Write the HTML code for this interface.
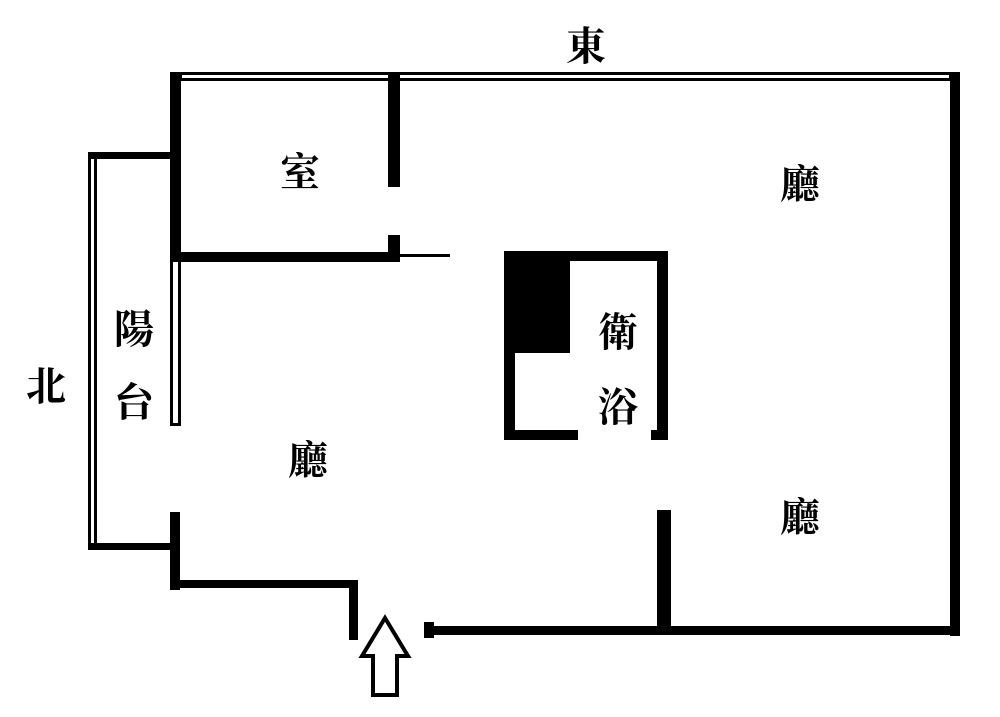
<!DOCTYPE html>
<html><head><meta charset="utf-8"><style>
html,body{margin:0;padding:0;background:#fff;}
svg{display:block;}
text{font-family:"Liberation Serif","Noto Serif CJK SC","Noto Sans CJK TC",serif;font-size:40px;font-weight:bold;fill:#000;text-anchor:middle;}
</style></head><body>
<svg width="1000" height="717" viewBox="0 0 1000 717" xmlns="http://www.w3.org/2000/svg">
<!-- top double wall -->
<rect x="170" y="72" width="790" height="9" fill="#000"/>
<rect x="182" y="75" width="206" height="3" fill="#fff"/>
<rect x="400" y="75" width="549" height="3" fill="#fff"/>
<!-- left wall upper -->
<rect x="170" y="72" width="11" height="190" fill="#000"/>
<!-- balcony -->
<rect x="88" y="152" width="82" height="7" fill="#000"/>
<rect x="88" y="152" width="9" height="398" fill="#000"/>
<rect x="91" y="159" width="3" height="386" fill="#fff"/>
<rect x="88" y="543" width="84" height="7" fill="#000"/>
<!-- thin inner double lower-left upper section -->
<rect x="170" y="262" width="11" height="164" fill="#000"/>
<rect x="173" y="262" width="5" height="161" fill="#fff"/>
<!-- lower left wall -->
<rect x="170" y="512" width="10" height="78" fill="#000"/>
<rect x="170" y="580" width="188" height="8" fill="#000"/>
<rect x="349" y="580" width="9" height="60" fill="#000"/>
<!-- room walls -->
<rect x="388" y="72" width="12" height="115" fill="#000"/>
<rect x="388" y="235" width="12" height="27" fill="#000"/>
<rect x="180" y="252" width="220" height="10" fill="#000"/>
<rect x="400" y="254" width="50" height="3" fill="#000"/>
<!-- bathroom -->
<rect x="504" y="251" width="164" height="10" fill="#000"/>
<rect x="504" y="251" width="11" height="189" fill="#000"/>
<rect x="504" y="251" width="66" height="102" fill="#000"/>
<rect x="657" y="251" width="11" height="189" fill="#000"/>
<rect x="504" y="430" width="74" height="10" fill="#000"/>
<rect x="651" y="430" width="17" height="10" fill="#000"/>
<!-- right side -->
<rect x="950" y="72" width="10" height="564" fill="#000"/>
<rect x="657" y="510" width="14" height="120" fill="#000"/>
<rect x="424" y="626" width="536" height="9" fill="#000"/>
<rect x="424" y="622" width="10" height="16" fill="#000"/>
<!-- arrow -->
<polygon points="385,618 408,656 397,656 397,695 373,695 373,656 362,656" fill="#fff" stroke="#000" stroke-width="4" stroke-linejoin="miter"/>
<!-- labels -->
<text x="586" y="60">東</text>
<text x="300" y="186">室</text>
<text x="800" y="198">廳</text>
<text x="308" y="474">廳</text>
<text x="800" y="531">廳</text>
<text x="134" y="343">陽</text>
<text x="134" y="416">台</text>
<text x="46" y="400">北</text>
<text x="618" y="346">衛</text>
<text x="618" y="421">浴</text>
</svg>
</body></html>
